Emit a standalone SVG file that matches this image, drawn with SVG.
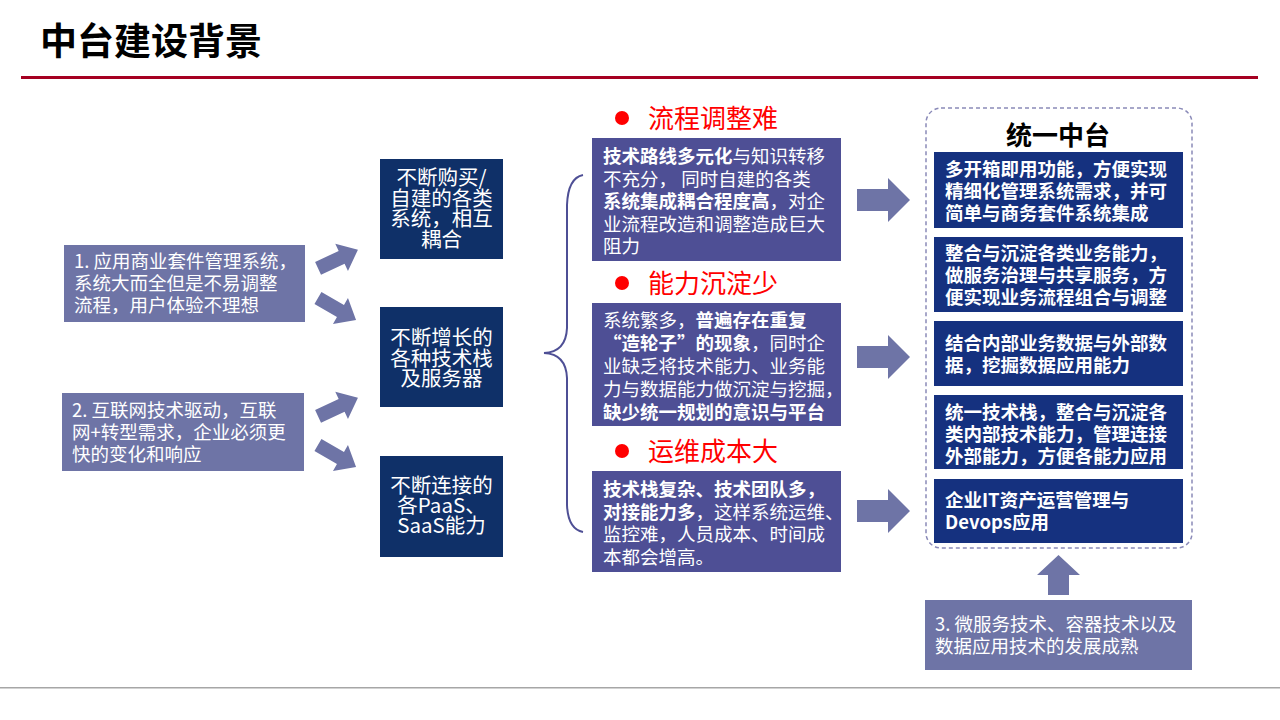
<svg xmlns="http://www.w3.org/2000/svg" width="1280" height="720" viewBox="0 0 1280 720">
<defs>
<style>
.t{font-family:"Noto Sans CJK SC","Liberation Sans",sans-serif;}
.w{fill:#fff;}
.b{font-weight:bold;}
.lbox{fill:#6E74A6;}
.dbox{fill:#0F3068;}
.pbox{fill:#4E4F95;}
.rbox{fill:#15317F;}
.arr{fill:#6E74A6;}
.head{fill:#FF0000;font-size:26px;}
</style>
<path id="sa" d="M-22,-7 H4 V-15 L22,0 L4,15 V7 H-22 Z"/>
</defs>
<rect width="1280" height="720" fill="#fff"/>
<g id="title">
<text class="t b" x="40" y="55" font-size="37" fill="#000">中台建设背景</text>
<rect x="21" y="76" width="1237" height="3" fill="#A50021"/>
<rect x="0" y="687" width="1280" height="1.5" fill="#A6A6A6"/>
</g>
<g id="cause1">
<rect class="lbox" x="64" y="245" width="241" height="77"/>
<text class="t w" font-size="18.5"><tspan x="74" y="268">1. 应用商业套件管理系统，</tspan><tspan x="74" y="290">系统大而全但是不易调整</tspan><tspan x="74" y="312">流程，用户体验不理想</tspan></text>
</g>
<g id="cause2">
<rect class="lbox" x="62" y="393" width="242" height="78"/>
<text class="t w" font-size="18.5"><tspan x="72" y="417">2. 互联网技术驱动，互联</tspan><tspan x="72" y="439">网+转型需求，企业必须更</tspan><tspan x="72" y="461">快的变化和响应</tspan></text>
</g>
<g id="mid1">
<rect class="dbox" x="380" y="159" width="123" height="100"/>
<text class="t w" font-size="20.5" text-anchor="middle"><tspan x="441.5" y="185">不断购买/</tspan><tspan x="441.5" y="205.5">自建的各类</tspan><tspan x="441.5" y="226">系统，相互</tspan><tspan x="441.5" y="246.5">耦合</tspan></text>
</g>
<g id="mid2">
<rect class="dbox" x="380" y="307" width="123" height="100"/>
<text class="t w" font-size="20.5" text-anchor="middle"><tspan x="441.5" y="345">不断增长的</tspan><tspan x="441.5" y="365.5">各种技术栈</tspan><tspan x="441.5" y="386">及服务器</tspan></text>
</g>
<g id="mid3">
<rect class="dbox" x="380" y="456" width="123" height="101"/>
<text class="t w" font-size="20.5" text-anchor="middle"><tspan x="441.5" y="493">不断连接的</tspan><tspan x="441.5" y="513">各PaaS、</tspan><tspan x="441.5" y="533">SaaS能力</tspan></text>
</g>
<g id="problem1">
<circle cx="622" cy="118" r="7" fill="#FF0000"/>
<text class="t head" x="648" y="128">流程调整难</text>
<rect class="pbox" x="592" y="138" width="249" height="123"/>
<text class="t w" font-size="18.5"><tspan x="603" y="163"><tspan class="b">技术路线多元化</tspan>与知识转移</tspan><tspan x="603" y="185.5">不充分， 同时自建的各类</tspan><tspan x="603" y="208"><tspan class="b">系统集成耦合程度高</tspan>，对企</tspan><tspan x="603" y="230.5">业流程改造和调整造成巨大</tspan><tspan x="603" y="253">阻力</tspan></text>
</g>
<g id="problem2">
<circle cx="622" cy="283" r="7" fill="#FF0000"/>
<text class="t head" x="648" y="293">能力沉淀少</text>
<rect class="pbox" x="592" y="303" width="249" height="123"/>
<text class="t w" font-size="18.5"><tspan x="603" y="327">系统繁多，<tspan class="b">普遍存在重复</tspan></tspan><tspan x="603" y="350"><tspan class="b">“造轮子”的现象</tspan>，同时企</tspan><tspan x="603" y="373">业缺乏将技术能力、业务能</tspan><tspan x="603" y="396">力与数据能力做沉淀与挖掘，</tspan><tspan x="603" y="419" class="b">缺少统一规划的意识与平台</tspan></text>
</g>
<g id="problem3">
<circle cx="622" cy="451" r="7" fill="#FF0000"/>
<text class="t head" x="648" y="461">运维成本大</text>
<rect class="pbox" x="592" y="471" width="249" height="101"/>
<text class="t w" font-size="18.5"><tspan x="603" y="496" class="b">技术栈复杂、技术团队多，</tspan><tspan x="603" y="518.5"><tspan class="b">对接能力多</tspan>，这样系统运维、</tspan><tspan x="603" y="541">监控难，人员成本、时间成</tspan><tspan x="603" y="563.5">本都会增高。</tspan></text>
</g>
<g id="platform">
<rect x="926" y="108" width="266" height="440" rx="15" ry="15" fill="none" stroke="#8A8AB8" stroke-width="1.5" stroke-dasharray="4,3"/>
<text class="t b" x="1058" y="145" font-size="26" text-anchor="middle" fill="#000">统一中台</text>
</g>
<g id="p1">
<rect class="rbox" x="934" y="152" width="249" height="76"/>
<text class="t w b" font-size="18.5"><tspan x="945" y="176">多开箱即用功能，方便实现</tspan><tspan x="945" y="198">精细化管理系统需求，并可</tspan><tspan x="945" y="220">简单与商务套件系统集成</tspan></text>
</g>
<g id="p2">
<rect class="rbox" x="934" y="237" width="249" height="75"/>
<text class="t w b" font-size="18.5"><tspan x="945" y="260">整合与沉淀各类业务能力，</tspan><tspan x="945" y="282">做服务治理与共享服务，方</tspan><tspan x="945" y="304">便实现业务流程组合与调整</tspan></text>
</g>
<g id="p3">
<rect class="rbox" x="934" y="321" width="249" height="65"/>
<text class="t w b" font-size="18.5"><tspan x="945" y="350">结合内部业务数据与外部数</tspan><tspan x="945" y="372">据，挖掘数据应用能力</tspan></text>
</g>
<g id="p4">
<rect class="rbox" x="934" y="395" width="249" height="74"/>
<text class="t w b" font-size="18.5"><tspan x="945" y="419">统一技术栈，整合与沉淀各</tspan><tspan x="945" y="441">类内部技术能力，管理连接</tspan><tspan x="945" y="463">外部能力，方便各能力应用</tspan></text>
</g>
<g id="p5">
<rect class="rbox" x="934" y="479" width="249" height="64"/>
<text class="t w b" font-size="18.5"><tspan x="945" y="507">企业IT资产运营管理与</tspan><tspan x="945" y="529">Devops应用</tspan></text>
</g>
<g id="cause3">
<rect class="lbox" x="925" y="600" width="267" height="70"/>
<text class="t w" font-size="18.5"><tspan x="935" y="631">3. 微服务技术、容器技术以及</tspan><tspan x="935" y="653">数据应用技术的发展成熟</tspan></text>
</g>
<g id="connectors">
<use href="#sa" class="arr" transform="translate(338,259) rotate(-25)"/>
<use href="#sa" class="arr" transform="translate(337,309) rotate(30)"/>
<use href="#sa" class="arr" transform="translate(338,407) rotate(-25)"/>
<use href="#sa" class="arr" transform="translate(337,456) rotate(30)"/>
<path d="M583,175 Q568,178 567,205 L567,328 Q566,352 544,353 Q566,354 567,378 L567,505 Q568,529 583,532" fill="none" stroke="#4E4F95" stroke-width="2"/>
<path class="arr" d="M857,189 H888 V178 L910,200 L888,222 V211 H857 Z"/>
<path class="arr" d="M857,346 H888 V335 L910,357 L888,379 V368 H857 Z"/>
<path class="arr" d="M857,500 H888 V489 L910,511 L888,533 V522 H857 Z"/>
<path class="arr" d="M1048,595 V575 H1037 L1058.5,555 L1080,575 H1069 V595 Z"/>
</g>
</svg>
